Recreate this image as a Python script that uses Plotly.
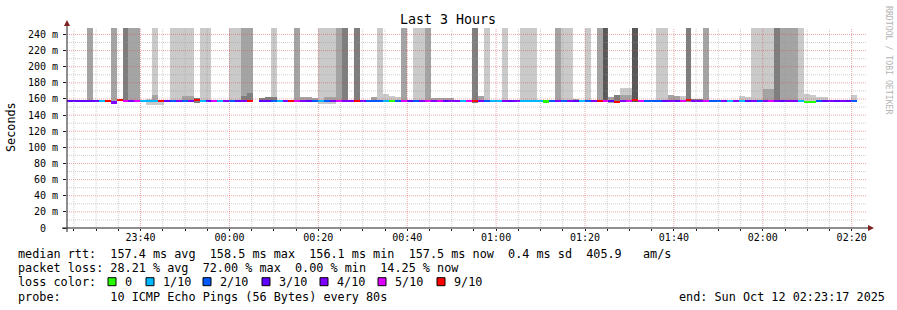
import plotly.graph_objects as go
from datetime import datetime, timedelta

# ---------------- data ----------------
RANGE_START = datetime(2025, 10, 11, 23, 23, 27)
RANGE_END = RANGE_START + timedelta(hours=3)
STEP0 = datetime(2025, 10, 11, 23, 23, 57)   # start time of step index 0
STEP_SECONDS = 80
FIRST_STEP = -1                               # first listed step index
Y_MAX = 248
OFF_SCALE = 250                               # smoke that leaves the chart

# median RTT per step (ms), steps -1 .. 132
median_ms = [
    157.8, 157.1, 157.2, 157.1, 157.3, 157.2, 157.4, 157.6, 155.6, 158.4,
    157.6, 157.3, 157.5, 157.0, 157.2, 157.1, 158.0, 157.4, 157.3, 157.2,
    157.4, 157.3, 158.2, 157.0, 157.5, 157.6, 157.1, 157.4, 157.2, 157.5,
    157.3, 157.8, None, 157.6, 157.8, 157.3, 157.1, 157.4, 157.9, 157.5,
    157.3, 157.4, 157.2, 157.0, 157.3, 157.4, 157.6, 157.5, 157.4, 158.0,
    157.3, 157.2, 157.1, 157.3, 157.0, 157.2, 157.3, 157.6, 157.2, 157.4,
    157.3, 157.5, 157.4, 157.3, 157.2, 157.3, 157.4, 157.0, 157.5, 157.9,
    157.4, 157.3, 157.0, 157.0, 157.3, 157.2, 157.3, 157.1, 157.0, 157.1,
    157.0, 156.9, 157.3, 157.5, 157.4, 157.3, 157.2, 157.1, 157.3, 157.2,
    157.6, 157.7, 157.4, 156.4, 157.5, 157.6, 158.2, 157.6, 157.3, 157.3,
    157.3, 157.4, 157.3, 157.4, 157.5, 158.2, 157.5, 157.4, 157.6, 157.3,
    157.3, 157.4, 157.0, 157.3, 157.0, 157.4, 157.5, 157.3, 157.4, 157.6,
    157.5, 157.4, 157.4, 157.5, 157.1, 156.6, 156.8, 157.2, 157.4, 157.5,
    157.4, 157.3, 157.4, 157.5,
]
# lost pings out of 10 per step
loss_count = [
    4, 3, 3, 3, 3, 3, 1, 9, 4, 9,
    5, 4, 5, 1, 1, 1, 9, 3, 2, 4,
    2, 4, 9, 1, 3, 5, 1, 4, 2, 3,
    4, 9, None, 3, 3, 2, 1, 4, 9, 5,
    4, 3, 2, 1, 2, 4, 5, 4, 4, 9,
    4, 2, 2, 2, 1, 0, 2, 5, 3, 2,
    4, 5, 4, 5, 3, 4, 4, 1, 5, 9,
    4, 2, 1, 1, 4, 3, 4, 1, 1, 1,
    1, 0, 2, 4, 2, 4, 3, 1, 2, 4,
    9, 5, 3, 9, 4, 5, 9, 5, 2, 2,
    2, 3, 4, 3, 5, 9, 4, 4, 5, 2,
    2, 4, 1, 4, 1, 3, 4, 2, 4, 5,
    4, 3, 4, 4, 1, 0, 0, 2, 3, 4,
    3, 4, 3, 2,
]

# smoke reaching above the chart
tall_step = [3, 7, 9, 10, 11, 14, 17, 18, 19, 20, 22, 23, 27, 28, 29,
             30, 34, 38, 42, 43, 44, 45, 46, 48, 52, 56, 58, 59, 60, 68,
             70, 73, 76, 77, 78, 82, 83, 84, 87, 89, 90, 95, 99, 100, 104,
             107, 115, 116, 117, 118, 119, 120, 121, 122, 123]
tall_shade = [2, 2, 3, 2, 2, 1, 1, 1, 1, 1, 1, 1, 1, 1, 2,
              2, 1, 2, 1, 1, 1, 2, 3, 3, 1, 2, 1, 1, 2, 3,
              1, 1, 1, 1, 1, 2, 1, 1, 1, 2, 4, 4, 1, 1, 3,
              2, 1, 1, 1, 1, 3, 2, 2, 2, 1]
tall_low = [156, 156, 156, 156, 156, 152.5, 156, 156, 156, 156, 156, 156, 156, 156, 156,
            156, 156, 156, 153.5, 153.5, 153.5, 156, 156, 156, 156, 156, 156, 156, 156, 155,
            156, 156, 156, 156, 156, 156, 156, 156, 156, 156, 156, 156, 156, 156, 156,
            156, 156, 156, 156, 156, 156, 156, 156, 156, 156]

# small smoke around the median
low_step = [13, 15, 21, 32, 33, 39, 40, 41, 51, 53, 54, 55, 61, 62, 63, 64, 69,
            85, 91, 92, 93, 94, 101, 102, 103, 105, 106, 113, 114, 124, 125, 126, 127, 132]
low_lo = [153, 153, 155, 157, 157, 157, 157, 157, 157, 157, 157, 157, 157, 157, 157, 157, 157,
          157, 155.5, 156, 157, 157, 157, 157, 157, 157, 157, 157, 157, 157, 157, 157, 157, 157]
low_hi = [160.5, 157.5, 161, 161, 162, 162, 162, 161, 162, 166, 164, 162, 161.5, 161.5, 161.5, 161.5, 163.5,
          160.5, 162, 165, 173.5, 173.5, 165, 164, 164, 160.5, 160.5, 164, 163, 166, 164.5, 162, 162, 165]
low_shade = [1, 1, 3, 3, 3, 2, 2, 2, 2, 1, 1, 1, 2, 2, 2, 2, 2,
             2, 2, 3, 1, 1, 2, 2, 1, 3, 3, 1, 1, 1, 1, 1, 1, 1]

# inner (denser) smoke layer
core_step = [14, 19, 20, 29, 30, 34, 43, 44, 93, 94, 117, 118]
core_lo = [157, 157, 157, 157, 157, 157, 157, 157, 157, 157, 157, 157]
core_hi = [165, 163.5, 163.5, 163.5, 167.5, 162, 162, 162, 165, 165, 172, 172]
core_shade = [2, 2, 2, 3, 3, 3, 2, 2, 2, 2, 2, 2]

y_ticks = [0, 20, 40, 60, 80, 100, 120, 140, 160, 180, 200, 220, 240]
loss_levels = [0, 1, 2, 3, 4, 5, 9]
loss_labels = ["0", "1/10", "2/10", "3/10", "4/10", "5/10", "9/10"]
rtt_stats = ["157.4", "158.5", "156.1", "157.5", "0.4", "405.9"]
loss_stats = ["28.21", "72.00", "0.00", "14.25"]

# ---------------- style ----------------
LOSS_COLORS = {0: "#26ff00", 1: "#00b8ff", 2: "#0059ff", 3: "#5e00ff",
               4: "#7e00ff", 5: "#dd00ff", 9: "#ff0000"}
SHADES = {1: "#cacaca", 2: "#a4a4a4", 3: "#7e7e7e", 4: "#585858"}
MONO = "DejaVu Sans Mono"
W, H = 897, 310
ML, MR, MT, MB = 67, 30, 28, 82
PW, PH = W - ML - MR, H - MT - MB
LINE_HALF = 1.3
BAR_W = STEP_SECONDS * 1000


def center(j):
    return STEP0 + timedelta(seconds=STEP_SECONDS * (j + 0.5))


def px_x(px):
    return (px - ML) / PW


def px_y(py):
    return (MT + PH - py) / PH


fig = go.Figure()

# tall smoke
fig.add_trace(go.Bar(
    x=[center(j) for j in tall_step], base=tall_low,
    y=[OFF_SCALE - lo for lo in tall_low], width=BAR_W,
    marker=dict(color=[SHADES[s] for s in tall_shade], line=dict(width=0)),
    hoverinfo="skip"))
# small smoke
fig.add_trace(go.Bar(
    x=[center(j) for j in low_step], base=low_lo,
    y=[h - l for l, h in zip(low_lo, low_hi)], width=BAR_W,
    marker=dict(color=[SHADES[s] for s in low_shade], line=dict(width=0)),
    hoverinfo="skip"))
# inner smoke
fig.add_trace(go.Bar(
    x=[center(j) for j in core_step], base=core_lo,
    y=[h - l for l, h in zip(core_lo, core_hi)], width=BAR_W,
    marker=dict(color=[SHADES[s] for s in core_shade], line=dict(width=0)),
    hoverinfo="skip"))
# median line coloured by loss
mx, mb, my, mc = [], [], [], []
for k, (m, lc) in enumerate(zip(median_ms, loss_count)):
    if m is None:
        continue
    mx.append(center(FIRST_STEP + k))
    mb.append(m - LINE_HALF)
    my.append(2 * LINE_HALF)
    mc.append(LOSS_COLORS[lc])
fig.add_trace(go.Bar(x=mx, base=mb, y=my, width=BAR_W,
                     marker=dict(color=mc, line=dict(width=0)), hoverinfo="skip"))

shapes = []
GRID_MINOR = "rgba(150,150,150,0.45)"
GRID_MAJOR = "rgba(222,80,80,0.5)"
DASH = "1px,1px"
# vertical grid every 5 min, major every 20 min
t = datetime(2025, 10, 11, 23, 25)
while t < RANGE_END:
    major = (t.minute % 20 == 0)
    shapes.append(dict(type="line", xref="x", yref="paper", x0=t, x1=t, y0=0, y1=1,
                       line=dict(color=GRID_MAJOR if major else GRID_MINOR, width=1, dash=DASH),
                       layer="above"))
    t += timedelta(minutes=5)
# horizontal grid every 10 ms, major every 20 ms
for v in range(10, Y_MAX, 10):
    major = (v % 20 == 0)
    shapes.append(dict(type="line", xref="paper", yref="y", x0=0, x1=1, y0=v, y1=v,
                       line=dict(color=GRID_MAJOR if major else GRID_MINOR, width=1, dash=DASH),
                       layer="above"))
# axes
AXIS = "#1f1f1f"
ARROW = "#801f1f"
shapes.append(dict(type="line", xref="paper", yref="paper", x0=px_x(62), x1=px_x(869),
                   y0=0, y1=0, line=dict(color=AXIS, width=1), layer="above"))
shapes.append(dict(type="line", xref="paper", yref="paper", x0=0, x1=0,
                   y0=px_y(232), y1=px_y(25), line=dict(color=AXIS, width=1), layer="above"))
shapes.append(dict(type="path", xref="paper", yref="paper",
                   path=f"M {px_x(64)},{px_y(26)} L {px_x(70)},{px_y(26)} L {px_x(67)},{px_y(20)} Z",
                   fillcolor=ARROW, line=dict(width=0), layer="above"))
shapes.append(dict(type="path", xref="paper", yref="paper",
                   path=f"M {px_x(868)},{px_y(225)} L {px_x(868)},{px_y(231)} L {px_x(874)},{px_y(228)} Z",
                   fillcolor=ARROW, line=dict(width=0), layer="above"))

annotations = []


def ann(text, px, py, xanchor="left", size=11.8, color="#000000", angle=0):
    annotations.append(dict(text=text.replace(" ", "\u00a0"), x=px_x(px), y=px_y(py),
                            xref="paper", yref="paper", xanchor=xanchor, yanchor="middle",
                            showarrow=False, textangle=angle,
                            font=dict(family=MONO, size=size, color=color)))


ann("Last 3 Hours", 448, 19, xanchor="center", size=13.3)
ann("Seconds", 11, 127, xanchor="center", size=11.8, angle=-90)
ann("RRDTOOL / TOBI OETIKER", 889, 60, xanchor="center", size=8.2, color="#b4b4b4", angle=90)

row1 = ("median rtt:  %s ms avg  %s ms max  %s ms min  %s ms now  %s ms sd  %s   am/s"
        % tuple(rtt_stats))
row2 = "packet loss: %s %% avg  %s %% max  %s %% min  %s %% now" % tuple(loss_stats)
ann(row1, 15.5, 254)
ann(row2, 15.5, 268.3)
ann("loss color:", 15.5, 281.7)
ann("probe:       10 ICMP Echo Pings (56 Bytes) every 80s", 15.5, 296.7)
ann("end: Sun Oct 12 02:23:17 2025", 677, 296.7)

box_x = [108, 146, 203, 262, 320, 378, 437]
for bx, lvl, lab in zip(box_x, loss_levels, loss_labels):
    shapes.append(dict(type="rect", xref="paper", yref="paper",
                       x0=px_x(bx), x1=px_x(bx + 8), y0=px_y(285.7), y1=px_y(277.7),
                       fillcolor=LOSS_COLORS[lvl], line=dict(color="#000000", width=1)))
    ann(lab, bx + 14.5, 281.7)

fig.update_layout(
    width=W, height=H, autosize=False,
    margin=dict(l=ML, r=MR, t=MT, b=MB, pad=0),
    paper_bgcolor="white", plot_bgcolor="white",
    showlegend=False, barmode="overlay", bargap=0,
    font=dict(family=MONO, color="#000000"),
    shapes=shapes, annotations=annotations,
    xaxis=dict(type="date", range=[RANGE_START, RANGE_END],
               tick0=datetime(2025, 10, 11, 23, 40), dtick=20 * 60 * 1000,
               tickformat="%H:%M", ticks="outside", ticklen=2, tickcolor=AXIS,
               ticklabelstandoff=-2,
               tickfont=dict(family=MONO, size=10, color="#000000"),
               showgrid=False, zeroline=False, showline=False, fixedrange=True,
               minor=dict(dtick=5 * 60 * 1000, ticks="outside", ticklen=2,
                          tickcolor=AXIS, showgrid=False)),
    yaxis=dict(range=[0, Y_MAX], tickvals=y_ticks,
               ticktext=["0\u00a0\u00a0" if v == 0 else "%d\u00a0m" % v for v in y_ticks],
               ticks="outside", ticklen=3, tickcolor=AXIS, ticklabelstandoff=3,
               tickfont=dict(family=MONO, size=10, color="#000000"),
               showgrid=False, zeroline=False, showline=False, fixedrange=True),
)

fig.write_html("out.html")
